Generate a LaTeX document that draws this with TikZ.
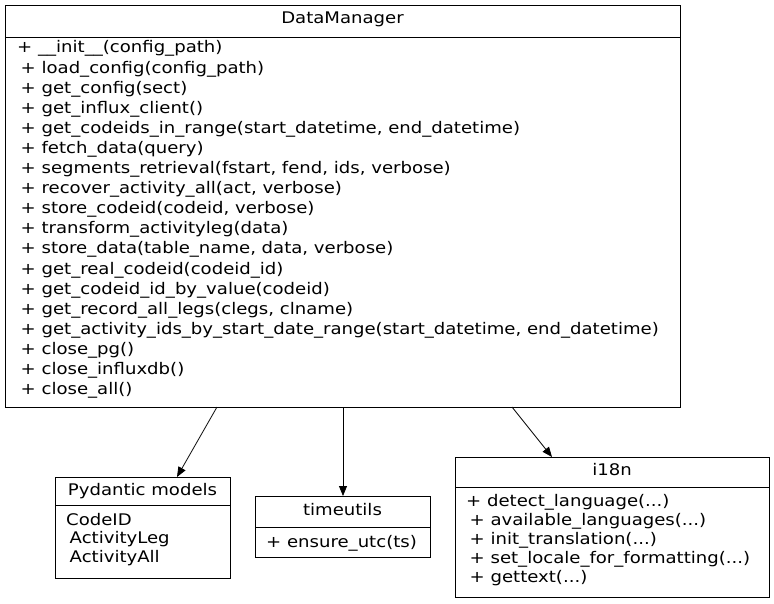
\documentclass[tikz,border=0pt]{standalone}
\usepackage{fontspec}
\setmainfont{DejaVu Sans}[FakeStretch=1.13]
\usetikzlibrary{arrows.meta}
\def\dd{...}
\begin{document}
\begin{tikzpicture}[x=1pt,y=-1pt,
  box/.style={draw,line width=0.8pt},
  txt/.style={inner sep=0pt,font=\fontsize{16}{18}\selectfont,text height=11pt,text depth=3pt},
  arr/.style={-{Triangle[length=10pt,width=8pt]},line width=0.8pt}]
\useasboundingbox (0,0) rectangle (774,604);
\fill[white] (0,0) rectangle (774,604);
% DataManager
\draw[box] (5,5) rectangle (680,407);
\draw[box] (5,37) -- (680,37);
\coordinate (dmb1) at (217,407);
\coordinate (dmb2) at (343,407);
\coordinate (dmb3) at (512,407);
\node[txt] (dmt) at (342.5,20) {DataManager};
\foreach \t [count=\i from 0] in {{+ \_\_init\_\_(config\_path)},
 {\hspace*{3.5pt}+ load\_config(config\_path)},
 {\hspace*{3.5pt}+ get\_config(sect)},
 {\hspace*{3.5pt}+ get\_influx\_client()},
 {\hspace*{3.5pt}+ get\_codeids\_in\_range(start\_datetime, end\_datetime)},
 {\hspace*{3.5pt}+ fetch\_data(query)},
 {\hspace*{3.5pt}+ segments\_retrieval(fstart, fend, ids, verbose)},
 {\hspace*{3.5pt}+ recover\_activity\_all(act, verbose)},
 {\hspace*{3.5pt}+ store\_codeid(codeid, verbose)},
 {\hspace*{3.5pt}+ transform\_activityleg(data)},
 {\hspace*{3.5pt}+ store\_data(table\_name, data, verbose)},
 {\hspace*{3.5pt}+ get\_real\_codeid(codeid\_id)},
 {\hspace*{3.5pt}+ get\_codeid\_id\_by\_value(codeid)},
 {\hspace*{3.5pt}+ get\_record\_all\_legs(clegs, clname)},
 {\hspace*{3.5pt}+ get\_activity\_ids\_by\_start\_date\_range(start\_datetime, end\_datetime)},
 {\hspace*{3.5pt}+ close\_pg()},
 {\hspace*{3.5pt}+ close\_influxdb()},
 {\hspace*{3.5pt}+ close\_all()}}
 \node[txt,anchor=west] (dm\i) at (17,49+20.1*\i) {\t};
% Pydantic
\draw[box] (55,477) rectangle (230,578);
\draw[box] (55,505) -- (230,505);
\coordinate (pyt) at (177,477);
\node[txt] (pyn) at (142.5,491) {Pydantic models};
\foreach \t [count=\i from 0] in {{CodeID},{\hspace*{3.5pt}ActivityLeg},{\hspace*{3.5pt}ActivityAll}}
 \node[txt,anchor=west] (py\i) at (66,521+18.5*\i) {\t};
% timeutils
\draw[box] (255,496) rectangle (430,557);
\draw[box] (255,527) -- (430,527);
\coordinate (tut) at (343,496);
\node[txt] (tun) at (342.5,511) {timeutils};
\node[txt,anchor=west] (tu0) at (266,543) {+ ensure\_utc(ts)};
% i18n
\draw[box] (455,457) rectangle (769,597);
\draw[box] (455,487) -- (769,487);
\coordinate (int) at (552,457);
\node[txt] (inn) at (612,471) {i18n};
\foreach \t [count=\i from 0] in {{+ detect\_language(\dd)},
 {\hspace*{3.5pt}+ available\_languages(\dd)},
 {\hspace*{3.5pt}+ init\_translation(\dd)},
 {\hspace*{3.5pt}+ set\_locale\_for\_formatting(\dd)},
 {\hspace*{3.5pt}+ gettext(\dd)}}
 \node[txt,anchor=west] (in\i) at (466,502+19*\i) {\t};
\draw[arr] (dmb1) -- (pyt);
\draw[arr] (dmb2) -- (tut);
\draw[arr] (dmb3) -- (int);
\end{tikzpicture}
\end{document}
